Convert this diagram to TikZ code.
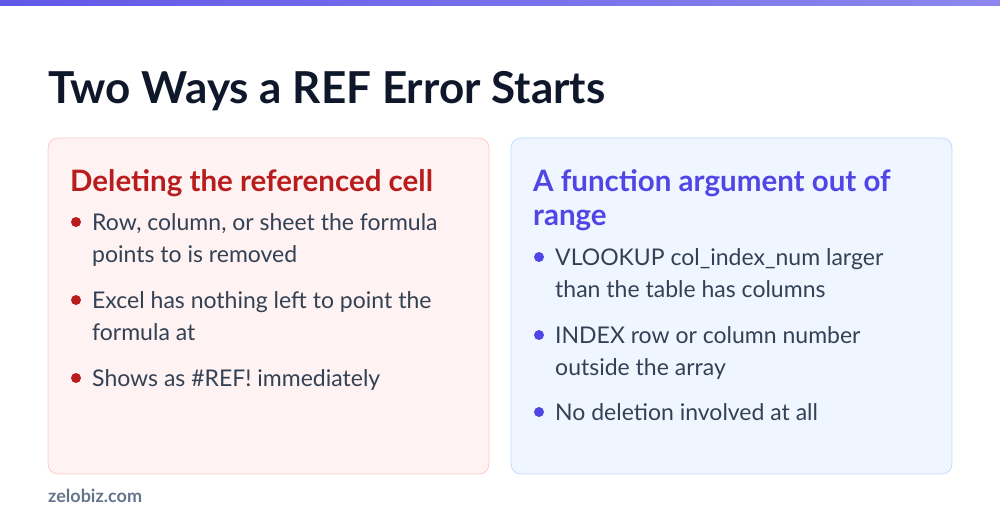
\documentclass[tikz,border=0pt]{standalone}
\usepackage{fontspec}
\setmainfont{Lato}
\usetikzlibrary{positioning}
\definecolor{titlecol}{HTML}{0F172A}
\definecolor{redhead}{HTML}{B91C1C}
\definecolor{redfill}{HTML}{FEF2F2}
\definecolor{redline}{HTML}{FECACA}
\definecolor{bluehead}{HTML}{4F46E5}
\definecolor{bluefill}{HTML}{EFF6FF}
\definecolor{blueline}{HTML}{BFDBFE}
\definecolor{bodycol}{HTML}{334155}
\definecolor{footcol}{HTML}{64748B}
\tikzset{
  card/.style={rounded corners=10pt, line width=0.8pt},
  head/.style={anchor=north west, font=\fontsize{29.5}{34}\selectfont\bfseries, align=left, inner sep=0pt},
  item/.style={anchor=north west, font=\fontsize{23}{32}\selectfont, text=bodycol, align=left, inner sep=0pt},
  dot/.style={circle, fill=#1, inner sep=0pt, minimum size=10pt}
}
\begin{document}
\begin{tikzpicture}[x=1pt,y=-1pt]
    \useasboundingbox (0,0) rectangle (1000,528);
    \shade[left color=bluehead!90, right color=bluehead!65] (0,0) rectangle (1000,5);
    \node[anchor=base west, font=\fontsize{44}{48}\selectfont\bfseries, text=titlecol, inner sep=0pt] (title) at (48,103) {Two Ways a REF Error Starts};

    % left card
    \draw[card, fill=redfill, draw=redline] (48,138) rectangle (489,474);
    \node[head, text=redhead] (lhead) at (70,169) {Deleting the referenced cell};
    \node[item] (l1) at (92,213) {Row, column, or sheet the formula\\points to is removed};
    \node[item] (l2) at (92,291) {Excel has nothing left to point the\\formula at};
    \node[item] (l3) at (92,369) {Shows as \#REF! immediately};
    \foreach \n in {l1,l2,l3}
        \node[dot=redhead] at ([xshift=-16pt,yshift=-9pt]\n.north west) {};

    % right card
    \draw[card, fill=bluefill, draw=blueline] (511,138) rectangle (952,474);
    \node[head, text=bluehead] (rhead) at (533,169) {A function argument out of\\range};
    \node[item] (r1) at (555,248) {VLOOKUP col\_index\_num larger\\than the table has columns};
    \node[item] (r2) at (555,326) {INDEX row or column number\\outside the array};
    \node[item] (r3) at (555,403) {No deletion involved at all};
    \foreach \n in {r1,r2,r3}
        \node[dot=bluehead] at ([xshift=-16pt,yshift=-9pt]\n.north west) {};

    \node[anchor=base west, font=\fontsize{18}{20}\selectfont\bfseries, text=footcol, inner sep=0pt] (foot) at (48,502) {zelobiz.com};
\end{tikzpicture}
\end{document}
